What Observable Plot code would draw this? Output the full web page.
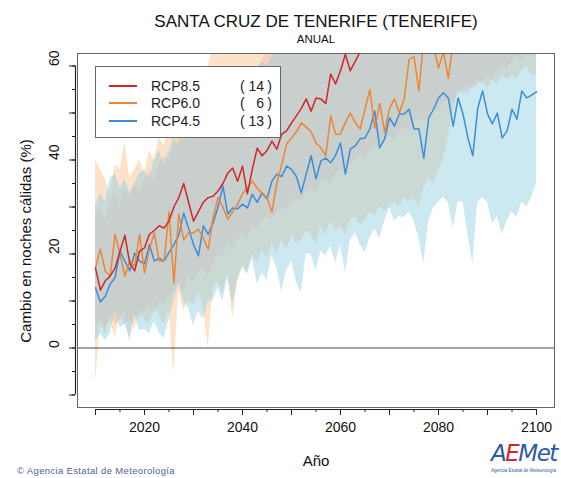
<!DOCTYPE html>
<html><head><meta charset="utf-8">
<script src="https://cdn.jsdelivr.net/npm/d3@7"></script>
<script src="https://cdn.jsdelivr.net/npm/@observablehq/plot@0.6"></script>
<style>
body{margin:0;background:#fff;font-family:"Liberation Sans",Arial,Helvetica,sans-serif;}
#wrap{position:relative;width:561px;height:478px;overflow:hidden;background:#fff;}
#chart{position:absolute;left:0;top:0;}
.t{position:absolute;white-space:nowrap;color:#111;line-height:1;}
#legend{position:absolute;left:95px;top:66px;width:186px;height:72px;box-sizing:border-box;border:1px solid #666;background:#fff;}
.row{position:absolute;left:0;width:100%;height:18px;font-size:14px;color:#222;}
.row .sw{position:absolute;left:13px;top:8px;width:28px;height:2px;}
.row .nm{position:absolute;left:55px;top:1px;}
.row .op{position:absolute;left:144px;top:1px;}
.row .num{position:absolute;right:16px;top:1px;text-align:right;}
.row .cp{position:absolute;right:8px;top:1px;}
</style></head><body>
<div id="wrap">
<div id="chart"></div>
<div class="t" style="left:0;width:632px;text-align:center;top:13px;font-size:17px;">SANTA CRUZ DE TENERIFE (TENERIFE)</div>
<div class="t" style="left:0;width:632px;text-align:center;top:34px;font-size:11.5px;">ANUAL</div>
<div class="t" style="left:0;width:632px;text-align:center;top:453px;font-size:15px;">Año</div>
<div class="t" style="left:25px;top:241px;font-size:15px;transform:translate(-50%,-50%) rotate(-90deg);">Cambio en noches cálidas (%)</div>
<div class="t" style="left:17px;top:466px;font-size:9.5px;letter-spacing:0.35px;color:#50628f;">© Agencia Estatal de Meteorología</div>
<div class="t" style="left:491px;top:442px;font-size:23px;font-style:italic;font-family:'DejaVu Sans',sans-serif;letter-spacing:-1.5px;"><span style="color:#2a5aa8">A</span><span style="color:#d3262a">E</span><span style="color:#2a5aa8">Met</span></div>
<div class="t" style="left:491px;top:469px;font-size:4.5px;color:#2a5aa8;">Agencia Estatal de Meteorología</div>
<div id="legend"></div>
</div>
<script>
const years = d3.range(2010, 2101);

const rcp85 = [17, 12.3, 14.3, 15.3, 17, 20.6, 24, 18, 16.4, 20.6,
  21.3, 24.2, 25, 26, 25.5, 27, 30, 32, 35, 31,
  27, 29, 31, 32, 32.3, 33.4, 35, 37.2, 38.3, 35.5,
  38.7, 32.8, 38, 42.5, 40.9, 42, 44, 42.3, 45.5, 46.2,
  47.9, 49.4, 51, 53, 50.4, 53.2, 53, 52, 58.3, 56.2,
  59, 62.5, 59, 61, 63, 63.5, 64, 66, 66.5, 69,
  68, 71, 70.5, 73, 72, 75, 74, 77, 76, 79,
  78, 80, 79.5, 82, 81, 84, 83, 85, 84.5, 87,
  86, 88, 87.5, 90, 89, 91, 90.5, 93, 92, 94, 95];

const rcp60 = [17, 21, 16.4, 15.3, 24.2, 20, 15.3, 18.5, 17.4, 24.2,
  16, 21, 24.5, 18.5, 18.5, 29, 13.8, 28.5, 23, 24.5,
  24.5, 25.3, 23.4, 21, 27.7, 32, 30, 27.4, 29, 30.6,
  32.8, 34, 35.5, 34, 33, 32, 29, 35, 39, 43.4,
  44.7, 46, 47.9, 47, 46, 43.6, 42.6, 40.9, 49.4, 45.5,
  45.5, 48, 50, 48, 46.6, 50.8, 55, 46.8, 52, 46,
  51, 53, 50, 53, 61.4, 62, 54.7, 66, 65, 64,
  59.6, 63, 57.4, 65, 67, 68, 66, 70, 69, 72,
  71, 73, 70, 74, 72, 75, 73, 76, 74, 77, 76];

const rcp45 = [12.8, 9.8, 11, 13.6, 15, 20.6, 18.5, 16.4, 20.2, 18.5,
  17.9, 22, 18.5, 19.1, 18.5, 20.3, 22, 24, 28.7, 25.5,
  22, 19.6, 26, 24.2, 26.6, 30, 34.5, 28.5, 29.8, 29.6,
  30.6, 29.8, 32.7, 31, 33, 31.7, 35.5, 37, 36.5, 38.7,
  38, 36.5, 33, 37, 40.9, 36, 39.8, 40.4, 39.4, 41,
  43.6, 37, 42.3, 43, 44.5, 44.7, 46.6, 50.4, 42.6, 44.5,
  49, 47.2, 49.8, 49.8, 50.8, 46.6, 46.6, 40.4, 49, 50.8,
  53.2, 54.3, 53.2, 47.2, 53.2, 49.8, 44.7, 40.9, 51, 54.7,
  49.8, 47.7, 50, 44.7, 46.2, 50.8, 48.7, 54.7, 53.2, 53.8, 54.5];

const rcp85Lo = [5, 6, 4, 7, 5, 6, 8, 1, 7, 6,
  8, 9, 7, 10, 9, 11, 12, 14, 12, 15,
  14, 16, 17, 15, 18, 20, 19, 22, 21, 23,
  24, 23, 26, 25, 27, 28, 27, 29, 30, 29,
  31, 32, 31, 33, 34, 33, 35, 36, 35, 37,
  38, 37, 39, 40, 41, 40, 42, 43, 42, 44,
  45, 44, 46, 47, 46, 48, 49, 48, 50, 51,
  50, 52, 53, 52, 54, 55, 54, 56, 57, 56,
  58, 57, 59, 60, 59, 61, 62, 61, 63, 62, 64];
const rcp85Hi = [28, 30, 27, 31, 33, 30, 34, 32, 35, 33,
  36, 38, 35, 39, 41, 40, 43, 45, 44, 47,
  46, 49, 48, 50, 52, 51, 54, 53, 56, 55,
  57, 58, 60, 59, 61, 63, 62, 64, 66, 65,
  67, 68, 70, 69, 71, 72, 71, 73, 74, 75,
  76, 75, 77, 78, 79, 80, 79, 81, 82, 83,
  84, 83, 85, 86, 87, 88, 87, 89, 90, 91,
  92, 91, 93, 94, 95, 96, 95, 97, 98, 99,
  100, 99, 101, 102, 103, 104, 103, 105, 106, 107, 108];

const rcp60Lo = [-7.4, 5, 3, 6, 2, 7, 5, 6, 4, 8,
  6, 5, 9, 7, 5, 8, -5.5, 12, 8, 10,
  9, 12, 9, 0, 13, 14, 12, 16, 6.2, 14,
  18, 16, 20, 18, 21, 19, 22, 20, 23, 21,
  24, 22, 23, 25, 24, 22, 26, 24, 27, 25,
  26, 24, 27, 28, 26, 27, 29, 28, 30, 29,
  30, 31, 30, 32, 31, 32, 30, 34, 36, 35,
  38, 40, 45, 50, 55, 54, 56, 55, 56, 57,
  55, 57, 56, 58, 57, 58, 57, 59, 60, 58, 58];
const rcp60Hi = [40, 38, 36, 33, 39, 38, 44, 36, 38, 40,
  37, 42, 40, 45, 43, 48, 45, 52, 50, 55,
  56, 58, 55, 60, 64, 62, 66, 65, 68, 67,
  70, 69, 72, 71, 73, 74, 73, 75, 76, 77,
  78, 77, 79, 80, 81, 82, 81, 83, 84, 85,
  86, 85, 87, 88, 89, 90, 89, 91, 92, 93,
  94, 93, 95, 96, 97, 98, 97, 99, 100, 101,
  102, 101, 103, 104, 105, 106, 105, 107, 108, 109,
  110, 109, 111, 112, 113, 114, 113, 115, 116, 117, 118];

const rcp45Lo = [1.5, 3, 1.5, 3, 8, 4.3, 5, 2, 7, 3.6,
  4, 3, 5.7, 3.2, 2, 6, 10, 13.6, 10, 8.5,
  4.7, 7.9, 6, 10, 10, 12.8, 10, 15, 9.4, 14.3,
  17, 15.7, 19, 13.6, 16, 14.3, 19.6, 17, 12, 16.4,
  18.5, 14, 11.7, 20, 20, 16.4, 20.6, 19.6, 21.7, 17.9,
  22, 16, 22.8, 24.5, 22, 20.2, 23.4, 25.3, 23.2, 27,
  29.8, 27, 28, 27.7, 29, 27, 23.4, 17.9, 27, 29.8,
  31, 32, 31, 25.5, 31, 31, 24.2, 18, 31, 32,
  31, 26.4, 28, 24.2, 27, 29, 27.7, 31, 30, 32, 35];
const rcp45Hi = [30, 33, 31, 36, 37, 34, 36, 33, 35, 37,
  38, 36, 40, 42, 39, 42, 45, 43, 47, 46,
  49, 47, 51, 50, 53, 52, 55, 54, 57, 59,
  56, 58, 57, 59, 61, 60, 62, 63, 64, 65,
  66, 68, 67, 69, 70, 68, 71, 70, 72, 71,
  66, 68, 67, 69, 70, 68, 71, 70, 72, 71,
  73, 72, 74, 73, 75, 74, 76, 75, 77, 76,
  78, 77, 79, 78, 80, 79, 81, 80, 82, 81,
  83, 82, 84, 83, 85, 84, 86, 85, 87, 86, 88];

const names = ["RCP8.5", "RCP6.0", "RCP4.5"];
const counts = [14, 6, 13];
const lineColors = ["#d0282a", "#ec8534", "#3b8ddb"];
const bandColors = ["#f4a3b6", "#fbb678", "#8fcfe2"];
const bandOpacity = [0.35, 0.4, 0.45];
const means = [rcp85, rcp60, rcp45];
const los = [rcp85Lo, rcp60Lo, rcp45Lo];
const his = [rcp85Hi, rcp60Hi, rcp45Hi];

const xTicksLabel = [2020, 2040, 2060, 2080, 2100];
const xTicks10 = d3.range(2010, 2101, 10);
const xTicks5 = d3.range(2010, 2101, 5);
const yTicksLabel = [0, 20, 40, 60];
const yTicks10 = d3.range(-10, 61, 10);
const yTicks5 = d3.range(-10, 61, 5);

const xDomain = [2006.33, 2103.67];
const yDomain = [-12.66, 62.66];

const series = names.map((n, k) => years.map((yr, i) => ({year: yr, name: n, mean: means[k][i], lo: los[k][i], hi: his[k][i]})));

const marks = [];
[0, 1, 2].forEach(k => {
  marks.push(Plot.areaY(series[k], {x: "year", y1: "lo", y2: "hi", fill: bandColors[k], fillOpacity: bandOpacity[k], clip: true}));
});
marks.push(Plot.ruleY([0], {stroke: "#333", strokeWidth: 0.9}));
[2, 1, 0].forEach(k => {
  marks.push(Plot.line(series[k], {x: "year", y: "mean", stroke: lineColors[k], strokeWidth: 1.5, clip: true}));
});
marks.push(Plot.frame({stroke: "#666", strokeWidth: 1}));
marks.push(Plot.axisY(yTicks10, {tickSize: 6, tickFormat: () => "", label: null, dx: -2, stroke: "#222"}));
marks.push(Plot.axisY(yTicks5, {tickSize: 3, tickFormat: () => "", label: null, dx: -2, stroke: "#222"}));
marks.push(Plot.ruleX([xDomain[0]], {y1: -10, y2: 60, dx: -2, stroke: "#222", strokeWidth: 1.2}));
marks.push(Plot.text(yTicksLabel, {y: d => d, frameAnchor: "left", dx: -23, rotate: -90, text: d => String(d), fontSize: 14, fill: "#111"}));
marks.push(Plot.axisX(xTicks10, {tickSize: 6, tickFormat: () => "", label: null, dy: 2, stroke: "#222"}));
marks.push(Plot.axisX(xTicks5, {tickSize: 3, tickFormat: () => "", label: null, dy: 2, stroke: "#222"}));
marks.push(Plot.ruleY([yDomain[0]], {x1: 2010, x2: 2100, dy: 2, stroke: "#222", strokeWidth: 1.2}));
marks.push(Plot.text(xTicksLabel, {x: d => d, frameAnchor: "bottom", dy: 24, text: d => String(d), fontSize: 14, fill: "#111"}));

const chart = Plot.plot({
  width: 561, height: 478,
  marginLeft: 77, marginRight: 7, marginTop: 53, marginBottom: 71,
  x: {domain: xDomain, axis: null},
  y: {domain: yDomain, axis: null},
  style: {fontFamily: "'Liberation Sans', Arial, sans-serif", background: "transparent", color: "#111", overflow: "visible"},
  marks
});
document.getElementById("chart").appendChild(chart);

const lg = document.getElementById("legend");
const tops = [10, 27, 45];
names.forEach((n, k) => {
  const r = document.createElement("div");
  r.className = "row";
  r.style.top = tops[k] + "px";
  r.innerHTML = `<div class="sw" style="background:${lineColors[k]}"></div><span class="nm">${n}</span><span class="op">(</span><span class="num">${counts[k]}</span><span class="cp">)</span>`;
  lg.appendChild(r);
});
</script>
</body></html>
